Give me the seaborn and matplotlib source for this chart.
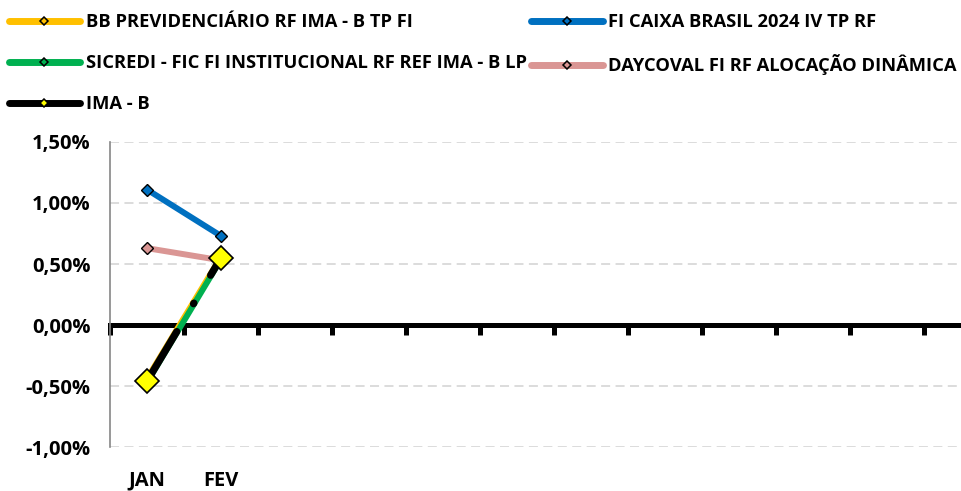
import pandas as pd
import seaborn as sns
import matplotlib.pyplot as plt
from matplotlib import font_manager
from matplotlib.lines import Line2D
from matplotlib.ticker import FuncFormatter, FixedLocator

# categories (12 slots on the axis, only the first two carry data)
month_labels = ["JAN", "FEV", "", "", "", "", "", "", "", "", "", ""]
months = ["JAN", "FEV"]

# monthly returns, in %
bb_prev = [-0.44, 0.56]
caixa_2024 = [1.11, 0.73]
sicredi = [-0.47, 0.54]
daycoval = [0.63, 0.53]
ima_b = [-0.46, 0.55]

series_names = [
    "BB PREVIDENCIÁRIO RF IMA - B TP FI",
    "FI CAIXA BRASIL 2024 IV TP RF",
    "SICREDI - FIC FI INSTITUCIONAL RF REF IMA - B LP",
    "DAYCOVAL FI RF ALOCAÇÃO DINÂMICA",
    "IMA - B",
]
series_values = [bb_prev, caixa_2024, sicredi, daycoval, ima_b]
colors = ["#FFC000", "#0070C0", "#00B050", "#DA9694", "#000000"]

rows = []
for name, vals in zip(series_names, series_values):
    for i, v in enumerate(vals):
        rows.append({"serie": name, "pos": month_labels.index(months[i]), "valor": v})
df = pd.DataFrame(rows)


def bold_font_file(candidates):
    # look for a real "*-Bold" file of an installed family
    for fam in candidates:
        for f in font_manager.fontManager.ttflist:
            base = f.fname.replace("\\", "/").split("/")[-1].lower()
            if f.name == fam and base.endswith("-bold.ttf"):
                return f.fname
    return font_manager.findfont(font_manager.FontProperties(family="DejaVu Sans", weight="bold"))


bold_path = bold_font_file(["Noto Sans", "Open Sans", "Roboto", "Lato"])


def fp(size):
    return font_manager.FontProperties(fname=bold_path, size=size)


sns.set_theme(style="white")
plt.rcParams["font.family"] = ["DejaVu Sans"]

fig = plt.figure(figsize=(9.61, 4.91), dpi=100)
ax = fig.add_axes([0.1145, 0.0896, 0.8855, 0.6212])

ymin, ymax = -1.0, 1.5
ax.set_ylim(ymin, ymax)
ax.set_xlim(-0.5, 10.8)

ax.yaxis.grid(True, linestyle=(0, (5, 3)), color="#D9D9D9", linewidth=1.3)
ax.set_axisbelow(True)

# line styles per series
styles = {
    series_names[0]: dict(lw=4.3, ms=6.5, mfc=colors[0], mew=1.0),
    series_names[1]: dict(lw=4.3, ms=6.5, mfc=colors[1], mew=1.0),
    series_names[2]: dict(lw=4.3, ms=6.5, mfc=colors[2], mew=1.0),
    series_names[3]: dict(lw=4.3, ms=6.5, mfc=colors[3], mew=1.0),
    series_names[4]: dict(lw=5.2, ms=12, mfc="#FFFF00", mew=1.2,
                          dashes=(8, 4.5, 0.1, 4.5)),
}

for name, col in zip(series_names, colors):
    sub = df[df["serie"] == name]
    st = styles[name]
    sns.lineplot(data=sub, x="pos", y="valor", color=col, ax=ax,
                 linewidth=st["lw"], marker="D", markersize=st["ms"],
                 markerfacecolor=st["mfc"], markeredgecolor="black",
                 markeredgewidth=st["mew"], legend=False, zorder=3)
    line = ax.get_lines()[-1]
    if "dashes" in st:
        line.set_dashes(st["dashes"])
        line.set_dash_capstyle("round")
        line.set_zorder(4)

# axes styling
for s in ["top", "right", "bottom"]:
    ax.spines[s].set_visible(False)
ax.spines["left"].set_color("#868686")
ax.spines["left"].set_linewidth(1.2)

ax.set_xticks(range(len(month_labels)))
ax.set_xticklabels(month_labels)
ax.tick_params(axis="x", length=0, pad=17)
ax.set_xlabel("")
ax.set_ylabel("")

ax.set_yticks([-1.0, -0.5, 0.0, 0.5, 1.0, 1.5])
ax.yaxis.set_major_formatter(FuncFormatter(lambda v, p: f"{v:.2f}%".replace(".", ",")))
ax.tick_params(axis="y", length=5, width=1.2, color="#868686", pad=9)
for lab in ax.get_xticklabels() + ax.get_yticklabels():
    lab.set_fontproperties(fp(14.5))
    lab.set_color("black")

# thick zero line with category boundary ticks
zero_axis = ax.secondary_xaxis((0 - ymin) / (ymax - ymin))
zero_axis.set_zorder(2)
zero_axis.xaxis.set_major_locator(FixedLocator([i - 0.5 for i in range(12)]))
zero_axis.set_xticklabels([])
zero_axis.spines["bottom"].set_linewidth(3.6)
zero_axis.spines["bottom"].set_color("black")
zero_axis.tick_params(axis="x", direction="out", length=7, width=3.6, color="black")


# legend (two blocks, Excel style)
def proxy(i):
    face = "#FFFF00" if i == 4 else colors[i]
    return Line2D([], [], color=colors[i], lw=5, solid_capstyle="round",
                  marker="D", ms=4.2, mfc=face, mec="black", mew=1.1)


left_idx = [0, 2, 4]
right_idx = [1, 3]
leg_kw = dict(frameon=False, handlelength=3.9, handletextpad=0.3,
              labelspacing=1.25, borderaxespad=0, borderpad=0, prop=fp(13.2),
              labelcolor="black")
fig.legend([proxy(i) for i in left_idx], [series_names[i] for i in left_idx],
           loc="upper left", bbox_to_anchor=(0.009, 0.973), **leg_kw)
fig.legend([proxy(i) for i in right_idx], [series_names[i] for i in right_idx],
           loc="upper left", bbox_to_anchor=(0.553, 0.973), **leg_kw)

fig.savefig("out.png", dpi=100)
plt.close(fig)
